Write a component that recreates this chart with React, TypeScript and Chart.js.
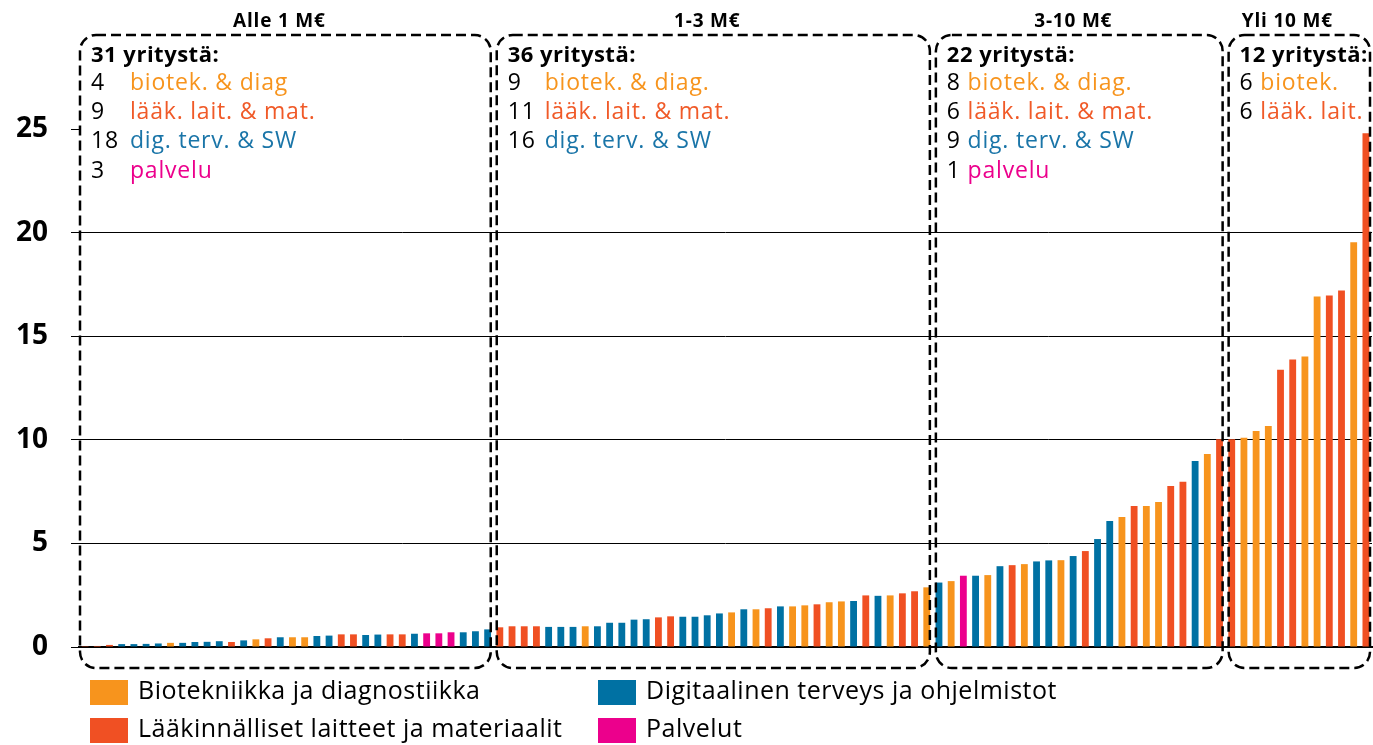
import React, { useEffect, useRef } from "react";
import { Chart, registerables } from "chart.js";

Chart.register(...registerables);

const FONT = "'Open Sans', 'DejaVu Sans', sans-serif";

// Category keys: B = biotek & diag, L = lääk. laitteet, D = digitaalinen, P = palvelut
const CAT_COLORS: Record<string, string> = {
  B: "#F7941D",
  L: "#F05023",
  D: "#0071A3",
  P: "#EC008C",
};
const CAT_TEXT_COLORS: Record<string, string> = {
  B: "#F7941D",
  L: "#F05A28",
  D: "#1A75A8",
  P: "#EC008C",
};

// Group 1: Alle 1 M€
const cats1 = ["L","L","L","D","D","D","D","B","D","D","D","D","L","D","B","L","D","B","B","D","D","L","L","D","D","L","L","D","P","P","P","D","D","D"];
const vals1 = [0.04,0.05,0.1,0.14,0.14,0.15,0.17,0.2,0.2,0.24,0.25,0.28,0.24,0.32,0.37,0.42,0.47,0.47,0.47,0.53,0.55,0.61,0.61,0.58,0.6,0.61,0.61,0.64,0.66,0.66,0.71,0.71,0.76,0.85];

// Group 2: 1-3 M€
const cats2 = ["L","L","L","L","D","D","D","B","D","D","D","D","D","L","L","D","D","D","D","B","D","B","L","D","B","B","L","B","B","D","L","D","B","L","L","B"];
const vals2 = [0.95,1.0,1.0,1.0,0.97,0.97,0.97,1.0,1.0,1.17,1.17,1.32,1.34,1.43,1.48,1.46,1.46,1.53,1.62,1.67,1.82,1.82,1.87,1.96,1.96,2.01,2.06,2.16,2.2,2.22,2.49,2.47,2.49,2.59,2.69,2.88];

// Group 3: 3-10 M€
const cats3 = ["D","B","P","D","B","D","L","B","D","D","B","D","L","D","D","B","L","B","B","L","L","D","B","L"];
const vals3 = [3.11,3.18,3.44,3.44,3.47,3.9,3.95,4.0,4.13,4.18,4.19,4.39,4.63,5.21,6.08,6.27,6.81,6.81,7.0,7.77,7.97,8.98,9.32,10.03];

// Group 4: Yli 10 M€
const cats4 = ["L","B","B","B","L","L","B","B","L","L","B","L"];
const vals4 = [10.03,10.1,10.43,10.67,13.38,13.87,14.02,16.92,16.97,17.2,19.53,24.8];

const groupTitles = ["Alle 1 M€", "1-3 M€", "3-10 M€", "Yli 10 M€"];
const groupHeads = ["31 yritystä:", "36 yritystä:", "22 yritystä:", "12 yritystä:"];
const groupLines1: [string, string, string][] = [["4", "biotek. & diag", "B"], ["9", "lääk. lait. & mat.", "L"], ["18", "dig. terv. & SW", "D"], ["3", "palvelu", "P"]];
const groupLines2: [string, string, string][] = [["9", "biotek. & diag.", "B"], ["11", "lääk. lait. & mat.", "L"], ["16", "dig. terv. & SW", "D"]];
const groupLines3: [string, string, string][] = [["8", "biotek. & diag.", "B"], ["6", "lääk. lait. & mat.", "L"], ["9", "dig. terv. & SW", "D"], ["1", "palvelu", "P"]];
const groupLines4: [string, string, string][] = [["6", "biotek.", "B"], ["6", "lääk. lait.", "L"]];

const legendLabels = [
  "Biotekniikka ja diagnostiikka",
  "Digitaalinen terveys ja ohjelmistot",
  "Lääkinnälliset laitteet ja materiaalit",
  "Palvelut",
];
const legendKeys = ["B", "D", "L", "P"];

const yTicks = [0, 5, 10, 15, 20, 25];

const groupCats = [cats1, cats2, cats3, cats4];
const groupVals = [vals1, vals2, vals3, vals4];
const groupLines = [groupLines1, groupLines2, groupLines3, groupLines4];

const allVals = ([] as number[]).concat(...groupVals);
const allCats = ([] as string[]).concat(...groupCats);
const labels = allVals.map((_, i) => String(i + 1));

const groupPlugin = {
  id: "groupBoxes",
  afterDraw(chart: any) {
    const ctx = chart.ctx as any;
    const xs = chart.scales.x;
    const area = chart.chartArea;
    const half = (xs.getPixelForValue(1) - xs.getPixelForValue(0)) / 2;
    const boxTop = 35;
    const boxBottom = 668;
    const radius = 16;
    const labelGap = [39, 37, null, null];
    let start = 0;
    ctx.save();
    groupVals.forEach((vals, gi) => {
      const n = vals.length;
      const left = gi === 0 ? area.left + 1 : xs.getPixelForValue(start) - half + 3;
      const right = gi === groupVals.length - 1 ? area.right - 2 : xs.getPixelForValue(start + n - 1) + half - 3;
      ctx.beginPath();
      ctx.setLineDash([10, 5]);
      ctx.lineWidth = 2.5;
      ctx.strokeStyle = "#000";
      ctx.roundRect(left, boxTop, right - left, boxBottom - boxTop, radius);
      ctx.stroke();
      ctx.setLineDash([]);
      ctx.fillStyle = "#000";
      ctx.letterSpacing = "0.8px";
      ctx.font = `bold 19px ${FONT}`;
      ctx.textAlign = "center";
      ctx.textBaseline = "alphabetic";
      const cx = gi === groupVals.length - 1 ? (left + right) / 2 - 12 : (left + right) / 2 - 6;
      ctx.fillText(groupTitles[gi], cx, 27);
      ctx.textAlign = "left";
      ctx.letterSpacing = "0.5px";
      ctx.font = `bold 22px ${FONT}`;
      const tx = left + 11;
      ctx.fillText(groupHeads[gi], tx, 62);
      ctx.letterSpacing = "0.8px";
      ctx.font = `23px ${FONT}`;
      groupLines[gi].forEach((ln, li) => {
        const y = 90 + li * 29.2;
        ctx.fillStyle = "#000";
        ctx.fillText(ln[0], tx, y);
        const gap = labelGap[gi];
        const lx = gap === null ? tx + ctx.measureText(ln[0] + " ").width : tx + gap;
        ctx.fillStyle = CAT_TEXT_COLORS[ln[2]];
        ctx.fillText(ln[1], lx, y);
      });
      start += n;
    });
    const colX = [90, 598];
    const rowY = [680, 718];
    ctx.letterSpacing = "0.5px";
    ctx.font = `25px ${FONT}`;
    ctx.textBaseline = "middle";
    legendLabels.forEach((lab, i) => {
      const col = i % 2;
      const row = Math.floor(i / 2);
      ctx.fillStyle = CAT_COLORS[legendKeys[i]];
      ctx.fillRect(colX[col], rowY[row], 38, 25);
      ctx.fillStyle = "#000";
      ctx.textAlign = "left";
      ctx.fillText(lab, colX[col] + 48, rowY[row] + 12);
    });
    ctx.letterSpacing = "0px";
    ctx.restore();
  },
};

export default function App() {
  const ref = useRef<HTMLCanvasElement | null>(null);
  useEffect(() => {
    if (!ref.current) return;
    const chart = new Chart(ref.current, {
      type: "bar",
      data: {
        labels,
        datasets: [
          {
            data: allVals,
            backgroundColor: allCats.map((c) => CAT_COLORS[c]),
            borderWidth: 0,
            categoryPercentage: 1,
            barPercentage: 0.56,
          },
        ],
      },
      options: {
        animation: false,
        responsive: false,
        devicePixelRatio: 1,
        layout: { padding: { top: 129, bottom: 98, left: 0, right: 1 } },
        plugins: {
          legend: { display: false },
          tooltip: { enabled: false },
        },
        scales: {
          x: {
            grid: { display: false, drawTicks: false },
            ticks: { display: false },
            border: { display: true, color: "#000", width: 2 },
            afterFit: (s: any) => {
              s.height = 0;
            },
          },
          y: {
            min: 0,
            max: 25,
            afterBuildTicks: (s: any) => {
              s.ticks = yTicks.map((v) => ({ value: v }));
            },
            ticks: {
              color: "#000",
              font: { family: FONT, size: 28, weight: "bold" },
              padding: 23,
            },
            grid: {
              color: (c: any) => (c.tick && c.tick.value === 25 ? "rgba(0,0,0,0)" : "#000"),
              tickColor: "#000",
              lineWidth: 1,
              tickLength: 8,
            },
            border: { display: false },
            afterFit: (s: any) => {
              s.width = 79;
            },
          },
        },
      },
      plugins: [groupPlugin],
    });
    return () => chart.destroy();
  }, []);
  return (
    <div style={{ position: "absolute", left: 0, top: 0, width: 1373, height: 745, background: "#fff" }}>
      <canvas ref={ref} width={1373} height={745} />
    </div>
  );
}
